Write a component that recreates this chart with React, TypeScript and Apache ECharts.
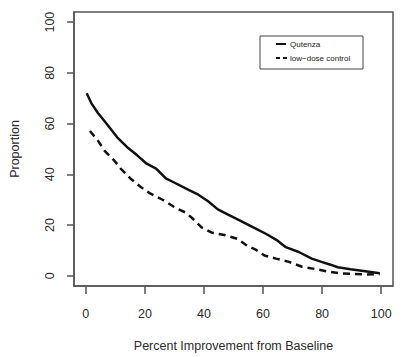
import React, { useEffect, useRef } from "react";
import * as echarts from "echarts";

const xTicks = [0, 20, 40, 60, 80, 100];
const yTicks = [0, 20, 40, 60, 80, 100];

const qutenzaX = [0.3, 1.9, 4.1, 6.3, 8.5, 10.7, 14, 17.3, 20.6, 23.8, 27.1, 30.4, 34.8, 38.1, 41.4, 44.7, 48, 52.4, 56.7, 61.1, 64.5, 67.7, 72.1, 76.5, 79.8, 83.1, 85.3, 89.6, 94, 99.5];
const qutenzaY = [72, 68, 64.2, 61, 57.8, 54.5, 50.7, 47.6, 44.2, 42.3, 38.4, 36.5, 33.9, 32, 29.4, 26.2, 24.2, 21.7, 19.1, 16.5, 14.2, 11.3, 9.4, 6.8, 5.5, 4.3, 3.4, 2.6, 1.9, 1.0];

const controlX = [1.4, 4.1, 6.3, 9.6, 11.8, 15.1, 18.4, 21.6, 26, 30.4, 33.7, 35.9, 39.2, 42.5, 46.9, 51.3, 54.5, 57.8, 60.5, 64.4, 68.8, 73.2, 77.6, 82, 86.3, 90.7, 95.1, 99.5];
const controlY = [57.1, 53.3, 49.4, 45.5, 42.3, 38.4, 35.2, 32.6, 30, 26.8, 25.0, 22.9, 19.1, 17.1, 16.1, 14.6, 12, 10.1, 8, 6.8, 5.5, 3.6, 2.7, 1.7, 1.0, 0.8, 0.5, 0.7];

const seriesNames = ["Qutenza", "low\u2212dose control"];
const xTitle = "Percent Improvement from Baseline";
const yTitle = "Proportion";

const FONT = "Liberation Sans, Arial, Helvetica, sans-serif";
const AXIS_COLOR = "#555";
const TEXT_COLOR = "#2a2a2a";

export default function App() {
  const ref = useRef<HTMLDivElement>(null);
  useEffect(() => {
    if (!ref.current) return;
    const chart = echarts.init(ref.current, null, { renderer: "svg" });
    const zip = (xs: number[], ys: number[]) => xs.map((x, i) => [x, ys[i]]);
    chart.setOption({
      animation: false,
      backgroundColor: "#fff",
      textStyle: { fontFamily: FONT },
      grid: {
        left: 65,
        top: 12,
        right: 9,
        bottom: 67,
        show: true,
        borderColor: AXIS_COLOR,
        borderWidth: 1.5,
        backgroundColor: "transparent",
      },
      xAxis: {
        type: "value",
        min: -4,
        max: 104,
        name: xTitle,
        nameLocation: "middle",
        nameGap: 53,
        nameTextStyle: { fontSize: 12.5, color: TEXT_COLOR, fontFamily: FONT },
        axisLine: { show: true, onZero: false, lineStyle: { color: AXIS_COLOR, width: 1.5 } },
        axisTick: { show: true, length: 8, customValues: xTicks, lineStyle: { color: AXIS_COLOR, width: 1.5 } },
        axisLabel: { customValues: xTicks, margin: 21, fontSize: 12.5, color: TEXT_COLOR, fontFamily: FONT },
        splitLine: { show: false },
      },
      yAxis: {
        type: "value",
        min: -4,
        max: 104,
        name: yTitle,
        nameLocation: "middle",
        nameGap: 53,
        nameRotate: 90,
        nameTextStyle: { fontSize: 12.5, color: TEXT_COLOR, fontFamily: FONT },
        axisLine: { show: true, onZero: false, lineStyle: { color: AXIS_COLOR, width: 1.5 } },
        axisTick: { show: true, length: 7, customValues: yTicks, lineStyle: { color: AXIS_COLOR, width: 1.5 } },
        axisLabel: { customValues: yTicks, rotate: 90, margin: 18, fontSize: 12.5, color: TEXT_COLOR, fontFamily: FONT },
        splitLine: { show: false },
      },
      series: [
        {
          name: seriesNames[0],
          type: "line",
          data: zip(qutenzaX, qutenzaY),
          showSymbol: false,
          lineStyle: { color: "#111", width: 2.5 },
        },
        {
          name: seriesNames[1],
          type: "line",
          data: zip(controlX, controlY),
          showSymbol: false,
          lineStyle: { color: "#111", width: 2.5, type: [7, 5] },
        },
      ],
      graphic: [
        {
          type: "rect",
          shape: { x: 260, y: 36, width: 103, height: 33 },
          style: { fill: "#fff", stroke: "#444", lineWidth: 1 },
        },
        {
          type: "line",
          shape: { x1: 276, y1: 44, x2: 286, y2: 44 },
          style: { stroke: "#111", lineWidth: 2 },
        },
        {
          type: "line",
          shape: { x1: 276, y1: 58, x2: 287, y2: 58 },
          style: { stroke: "#111", lineWidth: 2, lineDash: [4, 3] },
        },
        {
          type: "text",
          x: 290,
          y: 44,
          style: { text: seriesNames[0], fontSize: 8, fill: "#222", fontFamily: FONT, verticalAlign: "middle" },
        },
        {
          type: "text",
          x: 290,
          y: 58,
          style: { text: seriesNames[1], fontSize: 8, fill: "#222", fontFamily: FONT, verticalAlign: "middle" },
        },
      ],
    });
    return () => chart.dispose();
  }, []);
  return (
    <div
      ref={ref}
      style={{ position: "fixed", left: 0, top: 0, width: 402, height: 357, background: "#fff" }}
    />
  );
}
